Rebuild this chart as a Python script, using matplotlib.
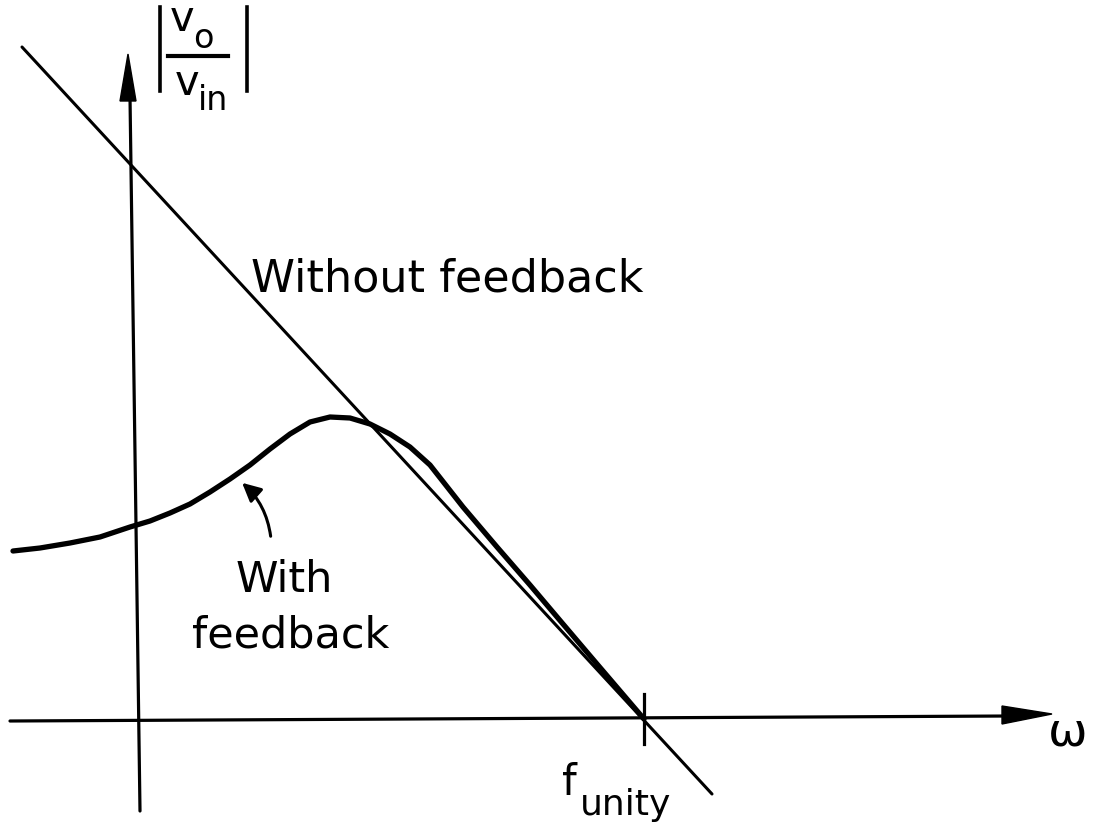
import matplotlib.pyplot as plt
import numpy as np

# open-loop gain (no feedback), straight roll-off line
open_x = [-117, 573]
open_y = [672, -75]

# closed-loop gain with feedback: peaks, then rides down the open-loop line
fb_x = [-126, -99, -69, -39, -9, 11, 31, 51, 71, 91, 111, 131, 151, 171,
        191, 211, 231, 251, 271, 291, 324, 358, 391, 424, 458, 505]
fb_y = [168, 171, 176, 182, 192, 198, 206, 215, 227, 240, 254, 270, 285,
        297, 302, 301, 295, 285, 272, 254, 212, 172, 134, 95, 55, 0]

f_unity = 505

fig = plt.figure(figsize=(10.93, 8.29), dpi=100)
ax = fig.add_axes([0, 0, 1, 1])
ax.set_xlim(-139, 954)
ax.set_ylim(-109, 720)
ax.axis('off')

# axes with filled arrowheads
ax.plot([1, -9], [-92, 622], color='k', lw=2.3, solid_capstyle='round')
ax.fill([-11, -19, -3], [665, 618, 618], color='k')
ax.plot([-129, 870], [-2, 3], color='k', lw=2.3, solid_capstyle='round')
ax.fill([913, 863, 863], [5, 13, -5], color='k')

# unity-gain tick
ax.plot([f_unity, f_unity], [25, -25], color='k', lw=2.3)

ax.plot(open_x, open_y, color='k', lw=2.2, solid_capstyle='round')
ax.plot(fb_x, fb_y, color='k', lw=3.8, solid_capstyle='round',
        solid_joinstyle='round')

font = 'DejaVu Sans'
ax.text(112, 428, 'Without feedback', fontsize=32, family=font,
        ha='left', va='baseline')
ax.text(145, 128, 'With', fontsize=31, family=font, ha='center', va='baseline')
ax.text(152, 72, 'feedback', fontsize=31, family=font, ha='center', va='baseline')
ax.annotate('', xy=(101, 238), xytext=(132, 180),
            arrowprops=dict(arrowstyle='-|>', lw=2.2, color='k',
                            mutation_scale=28,
                            connectionstyle='arc3,rad=0.2'))

# y label |v_o / v_in|
ax.plot([21, 21], [712, 628], color='k', lw=2.6)
ax.plot([108, 108], [712, 628], color='k', lw=2.6)
ax.plot([29, 89], [663, 663], color='k', lw=3)
ax.text(31, 689, 'v', fontsize=30, family=font, ha='left', va='baseline')
ax.text(54, 672, 'o', fontsize=24, family=font, ha='left', va='baseline')
ax.text(36, 625, 'v', fontsize=30, family=font, ha='left', va='baseline')
ax.text(59, 610, 'in', fontsize=24, family=font, ha='left', va='baseline')

# x label and unity-gain frequency
ax.text(929, -13, 'ω', fontsize=34, family=font, ha='center', va='center')
ax.text(423, -75, 'f', fontsize=30, family=font, ha='left', va='baseline')
ax.text(441, -95, 'unity', fontsize=26, family=font, ha='left', va='baseline')

fig.savefig('out.png', dpi=100)
